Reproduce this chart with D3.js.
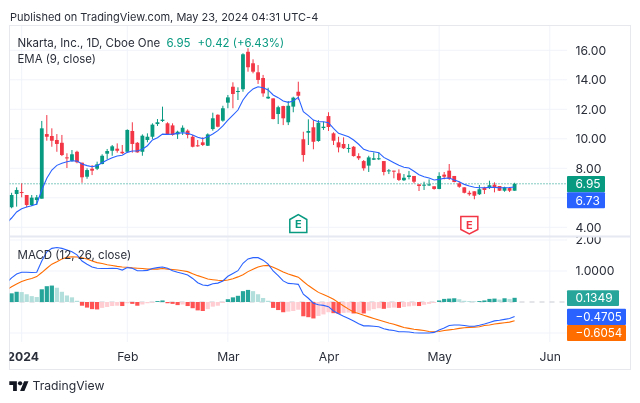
<!DOCTYPE html>
<html>
<head>
<meta charset="utf-8">
<script src="https://cdn.jsdelivr.net/npm/d3@7"></script>
<style>
    html, body { margin: 0; padding: 0; background: #fff; }
    svg { display: block; font-family: Inter, "Noto Sans", sans-serif; filter: blur(0.3px); }
</style>
</head>
<body>
<svg id="mysvg" width="640" height="403"></svg>
<script>
// daily bars, first two are the end of Dec 2023
var open = [5.36,6.26,6.39,6.19,5.51,5.85,5.94,10.32,10.19,9.92,
    9.73,8.74,8.51,9.12,8.38,7.43,7.97,7.97,8.29,8.99,
    9.19,9.33,9.12,9.12,10.53,9.73,9.12,9.92,10.14,11.00,
    11.21,11.05,10.91,10.30,10.44,10.55,10.14,9.56,9.76,9.53,
    10.66,11.63,11.23,12.45,13.53,13.19,13.36,15.90,15.12,14.51,
    14.12,12.74,12.74,11.68,12.22,11.12,12.18,13.19,9.97,10.41,
    10.78,9.85,10.73,11.54,10.37,9.76,9.65,9.33,9.46,8.83,
    8.49,8.18,8.58,8.61,8.49,7.82,7.84,7.66,7.19,7.41,
    7.48,6.91,6.85,6.87,6.78,6.60,7.57,7.84,7.48,6.98,
    6.71,6.34,6.44,6.24,6.68,6.66,6.89,6.80,6.48,6.66,6.48];
var high = [6.34,6.71,6.98,6.19,6.19,6.19,11.21,11.61,10.71,10.32,
    10.26,9.02,9.24,9.19,8.38,8.00,8.22,8.45,8.95,9.31,
    9.58,9.69,9.58,10.64,11.12,9.78,10.30,10.37,11.05,11.34,
    12.18,11.12,11.05,10.55,10.91,10.64,10.26,9.92,10.10,10.37,
    11.77,11.66,12.24,12.97,13.83,13.49,15.80,16.14,15.39,15.00,
    14.33,13.46,12.74,12.24,12.24,12.56,12.85,13.87,10.48,11.32,
    11.27,11.27,11.16,11.80,10.44,10.14,10.10,9.65,9.51,9.02,
    8.56,8.85,9.08,9.08,8.49,7.95,7.84,7.93,7.61,7.82,
    7.48,6.91,7.09,7.25,6.78,7.73,7.75,8.29,7.48,7.09,
    6.71,6.48,6.44,6.87,6.75,7.16,7.05,6.80,6.75,6.68,7.02];
var low = [5.29,5.40,6.03,5.36,5.44,5.51,5.94,9.87,9.46,9.12,
    8.83,8.02,8.45,8.34,7.02,7.29,7.54,7.88,8.27,8.61,
    8.85,9.06,8.97,9.06,9.06,9.06,8.85,9.76,9.99,10.87,
    11.14,10.26,10.21,9.99,10.26,10.03,9.42,9.46,9.51,9.51,
    10.55,10.78,11.16,12.07,12.07,12.63,13.19,14.55,14.44,13.72,
    12.85,12.70,11.32,11.00,10.93,10.93,11.80,12.63,8.45,9.58,
    9.29,9.80,10.60,10.53,9.58,9.08,9.31,9.06,8.79,8.56,
    7.84,7.75,8.56,8.56,7.52,7.61,7.32,7.14,7.14,7.25,
    6.98,6.46,6.53,6.80,6.55,6.58,7.25,7.21,7.05,6.68,
    6.30,6.14,5.90,6.19,6.26,6.60,6.37,6.46,6.41,6.39,6.48];
var close = [6.19,6.53,6.33,5.51,6.01,6.03,10.71,10.14,9.87,9.65,
    8.90,8.68,8.95,8.41,7.39,7.88,7.84,8.27,8.85,9.17,
    9.49,9.19,9.02,10.60,9.65,9.08,10.21,10.14,10.96,11.12,
    11.30,10.32,10.26,10.48,10.75,10.26,9.46,9.49,9.58,10.30,
    11.39,10.82,12.07,12.81,13.04,13.24,15.73,14.85,14.55,13.99,
    13.08,12.85,11.34,12.14,11.39,12.24,12.79,12.92,8.90,10.53,
    9.80,11.09,10.82,10.80,9.87,9.42,9.36,9.38,8.83,8.68,
    8.00,8.74,8.68,8.68,7.75,7.86,7.80,7.21,7.36,7.52,
    7.09,6.80,6.89,6.91,6.60,7.48,7.43,7.29,7.07,6.75,
    6.34,6.24,6.14,6.58,6.53,6.85,6.71,6.48,6.71,6.48,6.95];

// EMA and MACD lines have one extra value in front, the bar left of the frame
var ema = [4.29,4.63,5.04,5.26,5.38,5.46,5.58,6.53,7.32,7.88,8.20,
    8.34,8.45,8.51,8.49,8.29,8.18,8.11,8.18,8.38,8.56,
    8.72,8.83,8.88,9.08,9.17,9.17,9.29,9.53,9.92,10.07,
    10.32,10.30,10.32,10.37,10.41,10.37,10.26,10.10,10.01,10.14,
    10.32,10.55,10.87,11.27,11.61,11.95,12.63,13.08,13.38,13.53,
    13.46,13.31,12.97,12.79,12.56,12.47,12.56,12.81,11.84,11.57,
    11.27,11.16,11.16,11.09,10.71,10.37,10.26,10.14,9.92,9.63,
    9.29,9.17,9.12,9.06,8.74,8.56,8.38,8.20,8.07,8.02,
    7.80,7.57,7.43,7.34,7.21,7.25,7.32,7.34,7.21,7.09,
    6.91,6.80,6.71,6.68,6.68,6.71,6.71,6.68,6.68,6.70,6.73];
var macd = [0.62,0.78,0.90,0.96,0.96,0.95,0.96,1.32,1.62,1.73,1.76,
    1.73,1.68,1.62,1.52,1.32,1.22,1.13,1.09,1.08,1.08,
    1.09,1.08,1.03,1.11,1.09,1.01,1.01,1.02,1.08,1.11,
    1.13,1.09,1.01,0.96,0.92,0.87,0.76,0.62,0.55,0.53,
    0.59,0.61,0.68,0.83,0.92,1.01,1.25,1.39,1.43,1.43,
    1.35,1.22,1.00,0.85,0.68,0.60,0.59,0.57,0.25,0.12,
    -0.04,-0.09,-0.11,-0.15,-0.29,-0.38,-0.46,-0.53,-0.61,-0.70,
    -0.77,-0.77,-0.78,-0.80,-0.86,-0.90,-0.92,-0.96,-0.96,-0.97,
    -0.99,-1.00,-1.00,-1.00,-0.98,-0.90,-0.84,-0.76,-0.74,-0.74,
    -0.76,-0.78,-0.78,-0.75,-0.71,-0.66,-0.61,-0.59,-0.56,-0.53,-0.47];
var signal = [0.39,0.49,0.58,0.66,0.72,0.76,0.82,0.95,1.09,1.22,1.30,
    1.39,1.44,1.46,1.45,1.43,1.39,1.32,1.27,1.24,1.20,
    1.18,1.15,1.13,1.12,1.10,1.09,1.08,1.06,1.06,1.06,
    1.08,1.06,1.05,1.03,1.01,0.98,0.91,0.85,0.80,0.74,
    0.72,0.70,0.69,0.71,0.75,0.81,0.88,0.98,1.06,1.13,
    1.17,1.18,1.12,1.05,0.97,0.90,0.85,0.80,0.66,0.53,
    0.42,0.31,0.24,0.17,0.09,-0.02,-0.13,-0.23,-0.32,-0.37,
    -0.43,-0.48,-0.53,-0.58,-0.63,-0.68,-0.72,-0.77,-0.82,-0.85,
    -0.88,-0.90,-0.92,-0.95,-0.96,-0.95,-0.92,-0.90,-0.88,-0.85,
    -0.83,-0.82,-0.81,-0.80,-0.76,-0.74,-0.71,-0.69,-0.67,-0.65,-0.605];
var hist = [0.28,0.33,0.32,0.25,0.19,0.16,0.41,0.51,0.53,0.46,
    0.33,0.21,0.15,0.04,-0.12,-0.18,-0.23,-0.24,-0.19,-0.16,
    -0.13,-0.12,-0.13,-0.04,-0.06,-0.12,-0.08,-0.04,-0.02,0.03,
    0.05,-0.04,-0.06,-0.10,-0.08,-0.13,-0.20,-0.27,-0.29,-0.23,
    -0.15,-0.12,-0.03,0.09,0.15,0.20,0.35,0.39,0.35,0.25,
    0.13,0.04,-0.19,-0.26,-0.33,-0.31,-0.29,-0.25,-0.46,-0.49,
    -0.53,-0.45,-0.40,-0.33,-0.36,-0.38,-0.35,-0.34,-0.37,-0.35,
    -0.37,-0.28,-0.23,-0.20,-0.22,-0.19,-0.18,-0.19,-0.16,-0.14,
    -0.12,-0.13,-0.09,-0.06,-0.03,0.05,0.10,0.11,0.12,0.09,
    0.04,0.03,0.02,0.03,0.05,0.10,0.11,0.08,0.12,0.10,0.1349];

var priceGrid = [4,6,8,10,12,14,16];
var priceLabelTicks = [4,8,10,12,14,16];
var macdGrid = [2,1,-1];
var macdLabelTicks = [2,1];
var macdTickLabels = ["2.00","1.0000"];
var monthTicks = [2,23,43,63,85,107];
var monthLabels = ["2024","Feb","Mar","Apr","May","Jun"];
var earningsUp = [57];
var earningsDown = [91];

var lastClose = "6.95";
var lastEma = "6.73";
var lastHist = "0.1349";
var lastMacd = "\u22120.4705";
var lastSignal = "\u22120.6054";

var GREEN = "#089981", RED = "#f23645", BLUE = "#2962ff", ORANGE = "#ff6d00";
var GRID = "#f0f3fa", BORDER = "#e6e8ee", TEXT = "#2a2e39";

var left = 9.5, right = 630.5, top_ = 25.5, bottom = 369.5, axisX = 567, paneY = 236.5, timeY = 342;

var svg = d3.select("svg");

var x = d3.scaleLinear().domain([0, 100]).range([11.6, 514.6]);
var y = d3.scaleLinear().domain([16, 4]).range([50.3, 227.3]);
var yMacd = d3.scaleLinear().domain([2, -1]).range([240, 333]);

var defs = svg.append("defs");
defs.append("clipPath").attr("id", "plotClip").append("rect")
    .attr("x", left).attr("y", top_).attr("width", axisX - left).attr("height", timeY - top_);
defs.append("clipPath").attr("id", "macdAxisClip").append("rect")
    .attr("x", axisX).attr("y", paneY + 1).attr("width", right - axisX).attr("height", timeY - paneY);
defs.append("clipPath").attr("id", "timeClip").append("rect")
    .attr("x", left).attr("y", timeY).attr("width", right - left).attr("height", bottom - timeY);

// grid
var grid = svg.append("g").attr("stroke", GRID).attr("fill", "none");
grid.selectAll(".h1").data(priceGrid).enter().append("line")
    .attr("x1", left).attr("x2", axisX)
    .attr("y1", function(d) { return y(d); }).attr("y2", function(d) { return y(d); });
grid.selectAll(".h2").data(macdGrid).enter().append("line")
    .attr("x1", left).attr("x2", axisX)
    .attr("y1", function(d) { return yMacd(d); }).attr("y2", function(d) { return yMacd(d); });
grid.selectAll(".v").data(monthTicks).enter().append("line")
    .attr("y1", top_).attr("y2", timeY)
    .attr("x1", function(d) { return x(d); }).attr("x2", function(d) { return x(d); });

// frame and pane divider
svg.append("rect").attr("x", left).attr("y", top_)
    .attr("width", right - left).attr("height", bottom - top_)
    .attr("fill", "none").attr("stroke", BORDER);
svg.append("line").attr("x1", left).attr("x2", right).attr("y1", paneY).attr("y2", paneY)
    .attr("stroke", "#e6e8f2").attr("stroke-width", 2);

var plot = svg.append("g").attr("clip-path", "url(#plotClip)");

// last price line
plot.append("line").attr("x1", left).attr("x2", axisX)
    .attr("y1", y(+lastClose)).attr("y2", y(+lastClose))
    .attr("stroke", GREEN).attr("stroke-dasharray", "1,2");

// candles
var bars = plot.selectAll(".bar").data(close).enter().append("g").attr("class", "bar");
bars.append("line")
    .attr("x1", function(d, i) { return x(i); })
    .attr("x2", function(d, i) { return x(i); })
    .attr("y1", function(d, i) { return y(high[i]); })
    .attr("y2", function(d, i) { return y(low[i]); })
    .attr("stroke", function(d, i) { return d >= open[i] ? GREEN : RED; });
bars.append("rect")
    .attr("x", function(d, i) { return x(i) - 1.9; })
    .attr("width", 3.8)
    .attr("y", function(d, i) { return y(Math.max(d, open[i])); })
    .attr("height", function(d, i) { return Math.max(1, Math.abs(y(d) - y(open[i]))); })
    .attr("fill", function(d, i) { return d >= open[i] ? GREEN : RED; });

function lineFor(scale) {
    return d3.line()
        .x(function(d, i) { return x(i - 1); })
        .y(function(d) { return scale(d); });
}

plot.append("path").datum(ema)
    .attr("d", lineFor(y))
    .attr("fill", "none").attr("stroke", BLUE).attr("stroke-width", 1.1);

// histogram zero line
plot.append("line").attr("x1", left).attr("x2", axisX)
    .attr("y1", yMacd(0)).attr("y2", yMacd(0))
    .attr("stroke", "#c8cbd2").attr("stroke-dasharray", "5,5");

plot.selectAll(".hist").data(hist).enter().append("rect")
    .attr("class", "hist")
    .attr("x", function(d, i) { return x(i) - 2.1; })
    .attr("width", 4.2)
    .attr("y", function(d) { return Math.min(yMacd(d), yMacd(0)); })
    .attr("height", function(d) { return Math.abs(yMacd(d) - yMacd(0)); })
    .attr("fill", function(d, i) {
        var prev = i > 0 ? hist[i - 1] : 0;
        if (d >= 0) return d > prev ? "#26a69a" : "#b2dfdb";
        return d < prev ? "#ff5252" : "#ffcdd2";
    });

plot.append("path").datum(signal)
    .attr("d", lineFor(yMacd))
    .attr("fill", "none").attr("stroke", ORANGE).attr("stroke-width", 1.1);
plot.append("path").datum(macd)
    .attr("d", lineFor(yMacd))
    .attr("fill", "none").attr("stroke", BLUE).attr("stroke-width", 1.1);

// earnings markers
function earningsMark(days, color, path, dy) {
    var g = svg.selectAll(".e" + color.slice(1)).data(days).enter().append("g")
        .attr("transform", function(d) { return "translate(" + x(d) + "," + dy + ")"; });
    g.append("path").attr("d", path)
        .attr("fill", "#fff").attr("stroke", color).attr("stroke-width", 1.5);
    g.append("text").attr("text-anchor", "middle").attr("y", 4)
        .attr("font-size", 11).attr("font-weight", 700).attr("fill", color).text("E");
}
earningsMark(earningsUp, GREEN, "M-8.5,-4.5 L0,-9.5 L8.5,-4.5 L8.5,8.5 L-8.5,8.5 Z", 224);
earningsMark(earningsDown, RED, "M-8.5,-8.5 L8.5,-8.5 L8.5,4.5 L0,9 L-8.5,4.5 Z", 225);

// axes, the clip sits on an outer group because the axis group itself is translated
var priceAxis = svg.append("g").attr("transform", "translate(575.5,0)")
    .call(d3.axisRight(y).tickValues(priceLabelTicks).tickSize(0).tickPadding(0).tickFormat(d3.format(".2f")));
var macdAxis = svg.append("g").attr("clip-path", "url(#macdAxisClip)")
    .append("g").attr("transform", "translate(575.5,0)")
    .call(d3.axisRight(yMacd).tickValues(macdLabelTicks).tickSize(0).tickPadding(0)
        .tickFormat(function(d, i) { return macdTickLabels[i]; }));
var timeAxis = svg.append("g").attr("clip-path", "url(#timeClip)")
    .append("g").attr("transform", "translate(0,352)")
    .call(d3.axisBottom(x).tickValues(monthTicks).tickSize(0).tickPadding(0)
        .tickFormat(function(d, i) { return monthLabels[i]; }));

[priceAxis, macdAxis, timeAxis].forEach(function(a) {
    a.select(".domain").remove();
    a.attr("font-family", null);
    a.selectAll("text").attr("font-size", 12.2).attr("fill", TEXT);
});
timeAxis.selectAll("text").filter(function(d) { return d === 2; })
    .attr("font-weight", 700).attr("dx", 1);

// value badges on the axis
function badge(yTop, h, w, color, label, size) {
    svg.append("rect").attr("x", axisX).attr("y", yTop).attr("width", w).attr("height", h)
        .attr("rx", 1).attr("fill", color);
    svg.append("text").attr("x", axisX + 8.5).attr("y", yTop + h / 2).attr("dy", "0.36em")
        .attr("font-size", size).attr("fill", "#fff").text(label);
}
badge(176, 16.3, 38, GREEN, lastClose, 12);
badge(192.3, 16, 38, BLUE, lastEma, 12);
badge(290.3, 15.7, 52, "#26a69a", lastHist, 12);
badge(308.7, 16.3, 59, BLUE, lastMacd, 11.6);
badge(325, 16, 59, ORANGE, lastSignal, 11.6);

// titles and legends
function label(xPos, yPos, txt, size, color) {
    return svg.append("text").attr("x", xPos).attr("y", yPos).attr("dy", "0.36em")
        .attr("font-size", size).attr("fill", color).text(txt);
}
label(10, 16.7, "Published on TradingView.com, May 23, 2024 04:31 UTC-4", 11, TEXT);
label(17.5, 42.8, "Nkarta, Inc., 1D, Cboe One", 11.5, TEXT);
label(166.5, 42.8, "6.95", 11.5, GREEN);
label(197.5, 42.8, "+0.42 (+6.43%)", 11.4, GREEN);
label(17.5, 59.3, "EMA (9, close)", 11.4, TEXT);
label(17.5, 255, "MACD (12, 26, close)", 11.5, TEXT);

// logo
var logo = svg.append("g").attr("transform", "translate(9.3,379) scale(0.54)").attr("fill", "#131722");
logo.append("path").attr("d", "M14 22H7V11H0V4h14v18zM28 22h-8l7.5-18h8L28 22z");
logo.append("circle").attr("cx", 20).attr("cy", 8).attr("r", 4);
label(32.5, 385.5, "TradingView", 12.2, TEXT);
</script>
</body>
</html>
